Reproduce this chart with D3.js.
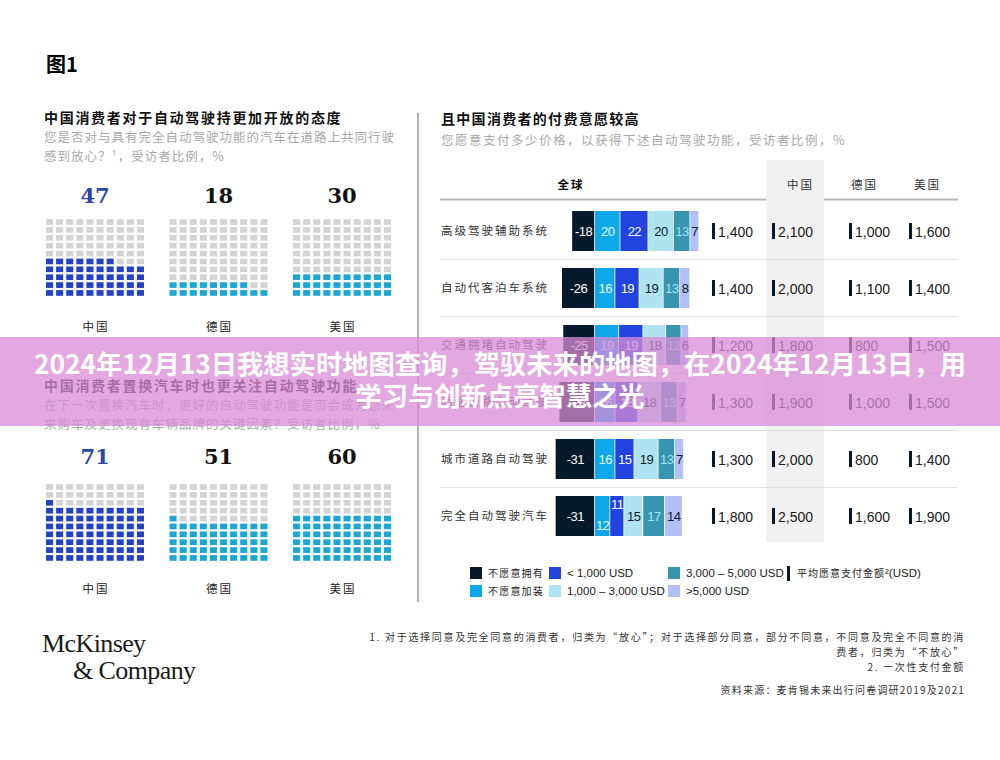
<!DOCTYPE html>
<html>
<head>
<meta charset="utf-8">
<script src="https://cdn.jsdelivr.net/npm/d3@7"></script>
<style>
  body { margin: 0; background: #fff; }
  svg { display: block; }
  .cjk { font-family: "Noto Sans CJK SC", sans-serif; }
  .num { font-family: "Liberation Sans", Arial, sans-serif; }
</style>
</head>
<body>
<script>
// waffle data
var countries = ["中国", "德国", "美国"];
var openValues = [47, 18, 30];
var switchValues = [71, 51, 60];

// willingness to pay data
var features = ["高级驾驶辅助系统", "自动代客泊车系统", "交通拥堵自动驾驶", "高速公路自动驾驶", "城市道路自动驾驶", "完全自动驾驶汽车"];
var notOwn = [-18, -26, -25, -28, -31, -31];
var notAdd = [20, 16, 19, 16, 16, 12];
var under1k = [22, 19, 19, 18, 15, 11];
var from1to3k = [20, 19, 18, 18, 19, 15];
var from3to5k = [13, 13, 12, 13, 13, 17];
var over5k = [7, 8, 6, 7, 7, 14];
var avgGlobal = [1400, 1400, 1200, 1300, 1300, 1800];
var avgChina = [2100, 2000, 1800, 1900, 2000, 2500];
var avgGermany = [1000, 1100, 800, 1000, 800, 1600];
var avgUS = [1600, 1400, 1500, 1500, 1400, 1900];
var amountHeaders = ["中国", "德国", "美国"];

var segNames = ["不愿意拥有", "不愿意加装", "< 1,000 USD", "1,000 – 3,000 USD", "3,000 – 5,000 USD", ">5,000 USD"];
var segColors = ["#061a2b", "#0ea8ea", "#2243e0", "#aee3ef", "#3795b0", "#b3c0f7"];
var segText = ["#fff", "#e8f8ff", "#fff", "#0b1b2b", "#9fe6f6", "#0b1b2b"];

var w = 1000, h = 760;
var svg = d3.select("body").append("svg").attr("width", w).attr("height", h);
var fmt = d3.format(",");

// title
svg.append("text").attr("class", "cjk").attr("x", 46).attr("y", 72)
   .style("font-size", "20px").style("font-weight", "bold").text("图1");

// divider
svg.append("line").attr("x1", 418).attr("x2", 418).attr("y1", 113).attr("y2", 602)
   .style("stroke", "#9a9a9a").style("stroke-width", 1.5);

// left panels
function panel_titles(x, y, title, sub) {
  svg.append("text").attr("class", "cjk").attr("x", x).attr("y", y)
     .style("font-size", "14px").style("font-weight", "bold").style("letter-spacing", "1.7px")
     .style("fill", "#111").text(title);
  sub.forEach(function(s, i) {
    svg.append("text").attr("class", "cjk").attr("x", x).attr("y", y + 19 + i * 19)
       .style("font-size", "12.5px").style("letter-spacing", "1px")
       .style("fill", "#a8a8a8").text(s);
  });
}

panel_titles(44, 123, "中国消费者对于自动驾驶持更加开放的态度",
  ["您是否对与具有完全自动驾驶功能的汽车在道路上共同行驶", "感到放心？¹，受访者比例，%"]);
panel_titles(44, 391, "中国消费者置换汽车时也更关注自动驾驶功能",
  ["在下一次置换汽车时，更好的自动驾驶功能是否会成为您未", "来购车及更换现有车辆品牌的关键因素？受访者比例，%"]);

var gridX = d3.scaleBand().domain(countries).range([43, 394]).paddingInner(0.158);
var colX = d3.scaleBand().domain(d3.range(10)).range([0, 104]).padding(0.3);
var rowY = d3.scaleBand().domain(d3.range(10)).range([0, 81]).padding(0.28);

function draw_waffle(values, top, numY, labY) {
  countries.forEach(function(c, k) {
    var g = svg.append("g").attr("transform", "translate(" + gridX(c) + "," + top + ")");
    var cells = d3.range(100).map(function(i) {
      return {col: i % 10, row: 9 - Math.floor(i / 10), on: i < values[k]};
    });
    g.selectAll("rect").data(cells).enter().append("rect")
     .attr("x", function(d) { return colX(d.col); })
     .attr("y", function(d) { return rowY(d.row); })
     .attr("width", colX.bandwidth())
     .attr("height", rowY.bandwidth())
     .style("fill", function(d) {
       if (!d.on) return "#d4d4d4";
       return k == 0 ? "#2440c4" : "#1ba6d6";
     });
    var cx = gridX(c) + gridX.bandwidth() / 2;
    svg.append("text").attr("x", cx).attr("y", numY)
       .style("font-family", "'DejaVu Serif', serif").style("font-weight", "bold")
       .style("font-size", "21px").style("text-anchor", "middle")
       .style("fill", k == 0 ? "#2c45a8" : "#111").text(values[k]);
    svg.append("text").attr("class", "cjk").attr("x", cx + 1).attr("y", labY)
       .style("font-size", "11.5px").style("letter-spacing", "2px")
       .style("text-anchor", "middle").style("fill", "#222").text(c);
  });
}

draw_waffle(openValues, 217, 203, 331);
draw_waffle(switchValues, 482, 464, 593);

// right panel
svg.append("text").attr("class", "cjk").attr("x", 441).attr("y", 124)
   .style("font-size", "14px").style("font-weight", "bold").style("letter-spacing", "1.3px")
   .style("fill", "#111").text("且中国消费者的付费意愿较高");
svg.append("text").attr("class", "cjk").attr("x", 441).attr("y", 145)
   .style("font-size", "12.5px").style("letter-spacing", "1.5px")
   .style("fill", "#a8a8a8").text("您愿意支付多少价格，以获得下述自动驾驶功能，受访者比例，%");

// china column shading
svg.append("rect").attr("x", 766).attr("y", 160).attr("width", 58).attr("height", 382).style("fill", "#f1f1f1");

svg.append("text").attr("class", "cjk").attr("x", 571).attr("y", 189)
   .style("font-size", "11.5px").style("font-weight", "bold").style("letter-spacing", "2px")
   .style("text-anchor", "middle").text("全球");
var headerX = [787, 851, 914];
amountHeaders.forEach(function(t, i) {
  svg.append("text").attr("class", "cjk").attr("x", headerX[i]).attr("y", 189)
     .style("font-size", "11.5px").style("letter-spacing", "2px").style("fill", "#333").text(t);
});
svg.append("line").attr("x1", 440).attr("x2", 766).attr("y1", 199.5).attr("y2", 199.5)
   .style("stroke", "#b5b5b5").style("stroke-width", 2);
svg.append("line").attr("x1", 824).attr("x2", 958).attr("y1", 199.5).attr("y2", 199.5)
   .style("stroke", "#b5b5b5").style("stroke-width", 2);

var x = d3.scaleLinear().domain([0, 100]).range([595, 722]);
var y = d3.scaleLinear().domain([0, 5]).range([231, 516]);
var barH = 40;

// separators
d3.range(5).forEach(function(i) {
  svg.append("line").attr("x1", 440).attr("x2", 958)
     .attr("y1", y(i + 0.5)).attr("y2", y(i + 0.5))
     .style("stroke", "#e2e2e2").style("stroke-width", 1);
});

var series = [notOwn, notAdd, under1k, from1to3k, from3to5k, over5k];

features.forEach(function(f, r) {
  var cy = y(r);
  svg.append("text").attr("class", "cjk").attr("x", 441).attr("y", cy + 4)
     .style("font-size", "11.5px").style("letter-spacing", "2px")
     .style("fill", "#333").text(f);

  var start = notOwn[r];
  series.forEach(function(s, k) {
    var v = Math.abs(s[r]);
    var x0 = start, x1 = start + v;
    start = x1;
    svg.append("rect").attr("x", x(x0)).attr("y", cy - barH / 2)
       .attr("width", x(x1) - x(x0) - 0.8).attr("height", barH)
       .style("fill", segColors[k]);
    var ty = cy + 5;
    // narrow segments in the last row are offset
    if (r == 5 && k == 1) ty = cy + 14;
    if (r == 5 && k == 2) ty = cy - 7;
    svg.append("text").attr("class", "num").attr("x", (x(x0) + x(x1)) / 2).attr("y", ty)
       .style("font-size", "13px").style("text-anchor", "middle").style("fill", segText[k])
       .style("letter-spacing", "-0.5px")
       .text(s[r]);
  });

  var amounts = [avgGlobal, avgChina, avgGermany, avgUS];
  var amountX = [712, 772, 849, 909];
  amounts.forEach(function(a, k) {
    svg.append("rect").attr("x", amountX[k]).attr("y", cy - 8).attr("width", 3).attr("height", 16)
       .style("fill", "#061a2b");
    svg.append("text").attr("class", "num").attr("x", amountX[k] + 6).attr("y", cy + 5.5)
       .style("font-size", "14px").style("fill", "#1a1a1a").text(fmt(a[r]));
  });
});

// legend
var legX = [470, 549, 668, 470, 549, 668];
var legY = [573, 573, 573, 591, 591, 591];
var legOrder = [0, 2, 4, 1, 3, 5];
legOrder.forEach(function(k, i) {
  svg.append("rect").attr("x", legX[i]).attr("y", legY[i] - 6).attr("width", 12).attr("height", 12)
     .style("fill", segColors[k]);
  svg.append("text").attr("class", k < 2 ? "cjk" : "num").attr("x", legX[i] + 18).attr("y", legY[i] + 4)
     .style("font-size", k < 2 ? "10px" : "11.5px").style("letter-spacing", k < 2 ? "1.2px" : "0px")
     .style("fill", "#222").text(segNames[k]);
});
svg.append("rect").attr("x", 787).attr("y", 566).attr("width", 3).attr("height", 15).style("fill", "#061a2b");
var lt = svg.append("text").attr("x", 797).attr("y", 577).style("fill", "#222");
lt.append("tspan").attr("class", "cjk").style("font-size", "10px").style("letter-spacing", "1px").text("平均愿意支付金额");
lt.append("tspan").attr("class", "num").style("font-size", "11.5px").text("²(USD)");

// logo
svg.append("text").attr("x", 42).attr("y", 652)
   .style("font-family", "'Liberation Serif', serif").style("font-size", "26px")
   .style("letter-spacing", "-0.6px").style("fill", "#1a1a1a").text("McKinsey");
svg.append("text").attr("x", 73).attr("y", 679)
   .style("font-family", "'Liberation Serif', serif").style("font-size", "26px")
   .style("letter-spacing", "-0.6px").style("fill", "#1a1a1a").text("& Company");

// notes
var notes = ["1. 对于选择同意及完全同意的消费者，归类为“放心”；对于选择部分同意，部分不同意，不同意及完全不同意的消",
             "费者，归类为“不放心”", "2. 一次性支付金额"];
notes.forEach(function(n, i) {
  svg.append("text").attr("class", "cjk").attr("x", 965).attr("y", 641 + i * 15)
     .style("font-size", "10px").style("letter-spacing", "1.7px")
     .style("text-anchor", "end").style("fill", "#333").text(n);
});
svg.append("text").attr("class", "cjk").attr("x", 965).attr("y", 694)
   .style("font-size", "10px").style("letter-spacing", "1.2px")
   .style("text-anchor", "end").style("fill", "#333")
   .text("资料来源：麦肯锡未来出行问卷调研2019及2021");

// banner overlay
svg.append("rect").attr("x", 0).attr("y", 337).attr("width", w).attr("height", 89)
   .style("fill", "#d98bd5").style("opacity", 0.75);
var banner = ["2024年12月13日我想实时地图查询，驾驭未来的地图，在2024年12月13日，用", "学习与创新点亮智慧之光"];
banner.forEach(function(b, i) {
  svg.append("text").attr("class", "cjk").attr("x", 500).attr("y", 374 + i * 32)
     .style("font-size", "26.3px").style("font-weight", "bold").style("fill", "#fff")
     .style("text-anchor", "middle").text(b);
});
</script>
</body>
</html>
